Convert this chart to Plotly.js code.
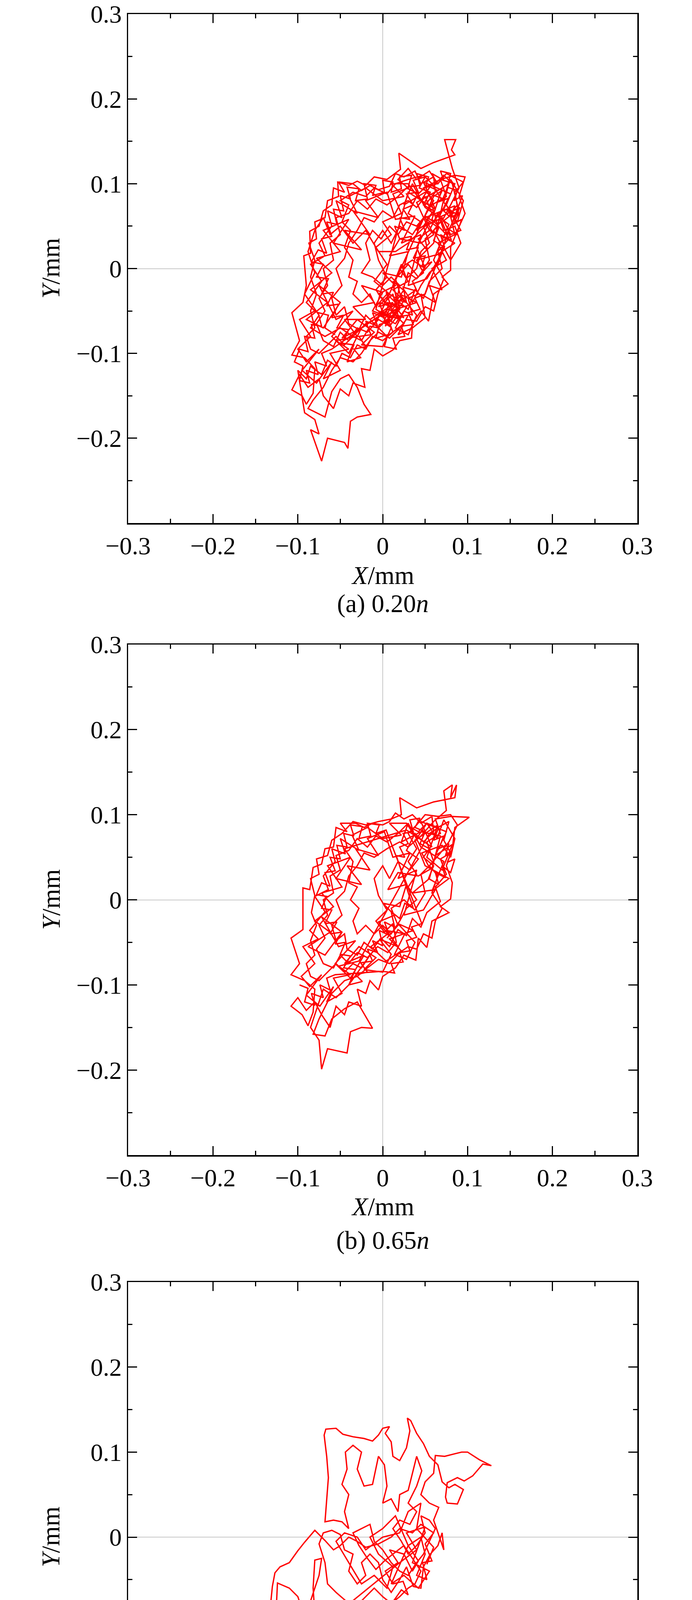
<!DOCTYPE html>
<html>
<head>
<meta charset="utf-8">
<script src="https://cdn.plot.ly/plotly-3.0.1.min.js"></script>
<style>html,body{margin:0;padding:0;background:#fff;}#chart{width:1772px;height:4843px;}</style>
</head>
<body>
<div id="chart"></div>
<script>
// ---- data (mm) ----
const xTickVals = [-0.3, -0.2, -0.1, 0, 0.1, 0.2, 0.3];
const xTickText = ["\u22120.3", "\u22120.2", "\u22120.1", "0", "0.1", "0.2", "0.3"];
const yTickVals = [-0.2, -0.1, 0, 0.1, 0.2, 0.3];
const yTickText = ["\u22120.2", "\u22120.1", "0", "0.1", "0.2", "0.3"];
const captions = ["(a) 0.20<i>n</i>", "(b) 0.65<i>n</i>", "(c) 1.00<i>n</i>"];

// (a) 0.20n
const x1 = [
0.010,0.022,0.015,0.030,0.042,0.055,0.050,0.065,0.058,0.075,
0.068,0.085,0.097,0.090,0.097,0.088,0.080,0.080,0.070,0.077,
0.060,0.054,0.045,0.035,0.034,0.020,0.012,0.000,-0.010,-0.015,
-0.025,-0.021,-0.035,-0.040,-0.050,-0.058,-0.070,-0.075,-0.088,-0.098,
-0.107,-0.095,-0.090,-0.082,-0.080,-0.092,-0.107,-0.098,-0.107,-0.094,
-0.090,-0.093,-0.085,-0.086,-0.075,-0.070,-0.060,-0.058,-0.045,-0.052,
-0.035,-0.025,-0.015,-0.005,0.008,0.015,0.025,0.038,0.045,0.060,
0.062,0.050,0.040,0.030,0.045,0.035,0.020,0.010,0.000,-0.010,
-0.005,0.005,-0.008,0.002,0.012,0.018,0.008,-0.005,-0.018,-0.030,
-0.040,-0.050,-0.058,-0.070,-0.078,-0.068,-0.075,-0.065,-0.070,-0.058,
-0.062,-0.050,-0.055,-0.040,-0.030,-0.018,-0.008,0.005,0.018,0.028,
0.042,0.052,0.065,0.078,0.072,0.083,0.070,0.078,0.065,0.070,
0.055,0.048,0.038,0.030,0.020,0.010,0.000,-0.010,-0.020,-0.028,
-0.040,-0.045,-0.055,-0.060,-0.048,-0.055,-0.045,-0.040,-0.030,-0.022,
-0.010,0.000,0.012,0.020,0.030,0.040,0.050,0.058,0.048,0.055,
0.045,0.040,0.028,0.022,0.012,0.020,0.005,0.012,0.000,-0.012,
-0.020,-0.030,-0.038,-0.048,-0.055,-0.065,-0.072,-0.085,-0.090,-0.100,
-0.092,-0.080,-0.075,-0.085,-0.072,-0.065,-0.045,-0.041,-0.038,-0.030,
-0.014,-0.022,-0.030,-0.040,-0.050,-0.060,-0.068,-0.088,-0.082,-0.070,
-0.060,-0.050,-0.035,-0.025,-0.015,-0.005,0.008,0.020,0.028,0.040,
0.050,0.060,0.065,0.072,0.060,0.068,0.060,0.072,0.080,0.090,
0.082,0.073,0.086,0.081,0.085,0.060,0.045,0.019,0.021,0.005,
-0.010,-0.020,-0.030,-0.040,-0.053,-0.052,-0.065,-0.068,-0.080,-0.078,
-0.087,-0.080,-0.085,-0.078,-0.085,-0.080,-0.090,-0.085,-0.075,-0.065,
-0.055,-0.045,-0.035,-0.025,-0.015,-0.005,0.005,0.015,0.025,0.035,
0.030,0.042,0.035,0.048,0.040,0.052,0.042,0.055,0.065,0.072,
0.085,0.092,0.080,0.072,0.065,0.055,0.045,0.035,0.025,0.015,
0.005,-0.008,-0.015,-0.025,-0.035,-0.030,-0.040,-0.035,-0.045,-0.038,
-0.048,-0.040,-0.050,-0.035,-0.020,-0.010,0.005,0.015,0.030,0.048,
0.060,0.072,0.082,0.088,0.078,0.070,0.060,0.050,0.040,0.028,
0.018,0.008,-0.002,-0.012,-0.020,-0.015,-0.025,-0.012,0.000,0.010,
0.020,0.015,0.025,0.010,0.003,0.012,0.020,0.008,0.002,-0.008,
0.030,0.062,0.048,0.080,0.066,0.091,0.075,0.058,0.070,0.040,
0.055,0.085,0.062,0.078,0.050,0.035,0.025,0.050,0.072,0.060,
0.040,0.070,0.052,0.030,0.045,0.022,0.038,0.015,0.005,-0.020,
-0.005,-0.035,-0.015,-0.045,-0.025,-0.058,-0.040,-0.070,-0.050,-0.078,
-0.060,-0.085,-0.065,-0.090,-0.070,-0.050,-0.075,-0.055,-0.035,-0.060,
-0.040,-0.025,-0.048,-0.030,-0.010,-0.025,0.000,0.010,-0.005,0.020,
0.005,0.028,0.015,0.030,0.040,0.020,0.040,0.010,0.025,0.005,
-0.015,0.008,-0.005,0.015,0.000,0.022,0.030,0.008,0.020,0.045,
0.060,0.050,0.075,0.088,0.095,0.080,0.070,0.058,0.045,0.030,
0.010,0.025,0.000,-0.020,-0.040,-0.030,-0.055,-0.048,-0.065,-0.060,
-0.075,-0.068,-0.085,-0.072,-0.090,-0.080,-0.098,-0.085,-0.100,-0.090,
-0.075,-0.095,-0.078,-0.060,-0.070,-0.050,-0.062,-0.040,-0.055,-0.030,
-0.045,-0.020,-0.035,-0.010,-0.025,0.000,-0.012,0.010,0.030,0.018,
0.035,0.050,0.045,0.062,0.055,0.070,0.058,0.075,0.065,0.085,
0.078,0.090,0.085,0.095,0.075,0.065,0.055,0.040,0.030,0.018,
0.030,0.012,0.022,0.000,0.010,-0.008,0.005,-0.010,0.008,-0.005,
0.012,0.000,0.015,0.025,0.012,0.030,0.020,0.035,0.050,0.040,
0.055,0.040,0.060,0.048,0.068,0.085,0.075,0.092,0.080,0.070,
0.050,0.030,0.015,-0.005,-0.020,-0.035,-0.050,-0.062,-0.070,-0.080,
-0.088,-0.080,-0.092,-0.075,-0.085,-0.068,-0.050,-0.035,-0.020,-0.005,
0.060,0.070,0.064,0.078,0.071,0.085,0.080,0.090,0.083,0.093,
0.087,0.076,0.081,0.068,0.073,0.060,0.066,0.052,0.060,0.048,
0.056,0.043,0.050,0.036,0.042,0.028,0.036,0.024,0.032,0.020,
0.026,0.014,0.020,0.034,0.028,0.042,0.036,0.050,0.046,0.058,
0.040,0.030,0.024,0.012,0.016,0.004,0.010,-0.004,0.002,-0.012,
-0.006,-0.020,-0.014,-0.028,-0.020,-0.034,-0.026,-0.042,-0.034,-0.048,
-0.040,-0.054,-0.046,-0.060,-0.052,-0.066,-0.058,-0.072,-0.064,-0.078,
-0.070,-0.084,-0.076,-0.066,-0.072,-0.060,-0.066,-0.054,-0.058,-0.046,
-0.050,-0.038,-0.042,-0.028,-0.032,-0.018,-0.022,-0.008,-0.012,0.002,
0.000,0.012,0.010,0.022,0.020,0.034,0.030,0.044,0.040,0.054,
0.050,0.064,0.058,0.072,0.068,0.080,0.076,0.088,0.084,0.094,
0.050,0.038,0.044,0.030,0.036,0.022,0.026,0.012,0.016,0.002,
0.006,-0.008,-0.004,0.008,0.004,0.018,0.014,0.028,0.024,0.038,
-0.060,-0.072,-0.066,-0.080,-0.076,-0.090,-0.086,-0.098,-0.094,-0.104,
-0.098,-0.088,-0.092,-0.080,-0.084,-0.072,-0.076,-0.064,-0.068,-0.056
];
const y1 = [
-0.050,-0.035,-0.012,0.005,-0.010,0.010,0.035,0.050,0.075,0.085,
0.105,0.110,0.108,0.085,0.065,0.045,0.025,-0.002,-0.010,-0.018,
-0.030,-0.062,-0.050,-0.065,-0.082,-0.085,-0.096,-0.103,-0.095,-0.120,
-0.118,-0.140,-0.135,-0.150,-0.142,-0.165,-0.150,-0.130,-0.140,-0.125,
-0.143,-0.150,-0.160,-0.147,-0.118,-0.105,-0.102,-0.085,-0.052,-0.040,
-0.020,0.015,0.018,0.044,0.050,0.068,0.075,0.095,0.090,0.102,
0.100,0.092,0.098,0.093,0.097,0.112,0.108,0.115,0.100,0.108,
0.090,0.075,0.085,0.065,0.055,0.040,0.050,0.030,0.045,0.030,
0.010,-0.010,-0.025,-0.040,-0.030,-0.055,-0.068,-0.060,-0.075,-0.070,
-0.085,-0.075,-0.092,-0.085,-0.065,-0.050,-0.035,-0.020,0.000,0.010,
0.030,0.040,0.060,0.065,0.080,0.070,0.082,0.075,0.085,0.095,
0.088,0.098,0.092,0.100,0.078,0.065,0.055,0.035,0.020,0.000,
-0.015,-0.035,-0.025,-0.048,-0.040,-0.062,-0.050,-0.065,-0.055,-0.072,
-0.065,-0.045,-0.055,-0.035,-0.020,0.000,0.012,0.030,0.045,0.060,
0.055,0.068,0.060,0.075,0.080,0.072,0.085,0.065,0.050,0.030,
0.020,0.000,-0.012,0.005,-0.020,-0.045,-0.055,-0.075,-0.085,-0.080,
-0.095,-0.090,-0.105,-0.100,-0.115,-0.108,-0.125,-0.115,-0.130,-0.120,
-0.170,-0.178,-0.195,-0.190,-0.227,-0.200,-0.205,-0.212,-0.180,-0.175,
-0.172,-0.160,-0.140,-0.125,-0.130,-0.145,-0.175,-0.165,-0.155,-0.140,
-0.120,-0.105,-0.110,-0.100,-0.085,-0.075,-0.082,-0.070,-0.060,-0.062,
-0.045,-0.050,-0.030,-0.012,0.010,0.030,0.045,0.060,0.075,0.095,
0.118,0.152,0.152,0.140,0.134,0.125,0.118,0.136,0.117,0.105,
0.108,0.098,0.103,0.098,0.102,0.085,0.080,0.060,0.055,0.035,
0.030,0.010,-0.010,-0.030,-0.050,-0.070,-0.080,-0.095,-0.100,-0.090,
-0.080,-0.090,-0.080,-0.085,-0.068,-0.070,-0.060,-0.065,-0.050,-0.055,
-0.035,-0.030,-0.015,-0.005,0.010,0.022,0.035,0.045,0.065,0.045,
0.050,0.030,0.010,0.025,0.005,-0.005,-0.020,-0.040,-0.025,-0.040,
-0.030,-0.045,-0.030,-0.040,-0.030,-0.015,-0.010,0.010,0.025,0.045,
0.055,0.075,0.080,0.090,0.085,0.095,0.088,0.100,0.105,0.110,
0.098,0.110,0.100,0.075,0.062,0.070,0.055,0.062,0.050,0.055,
0.040,0.050,0.035,0.045,0.030,0.010,-0.005,-0.010,-0.020,-0.010,
-0.020,-0.045,-0.058,-0.052,-0.068,-0.058,-0.048,-0.040,-0.055,-0.048,
0.090,0.070,0.102,0.088,0.060,0.072,0.040,0.058,0.095,0.078,
0.045,0.030,0.015,0.052,0.072,0.100,0.075,0.090,0.082,0.030,
0.010,0.018,-0.012,-0.020,0.040,0.030,0.062,0.058,0.090,0.080,
0.060,0.068,0.040,0.045,0.022,0.030,0.058,0.045,0.020,0.012,
-0.005,-0.025,-0.040,-0.060,-0.070,-0.040,-0.020,-0.060,-0.050,-0.080,
-0.100,-0.070,-0.082,-0.060,-0.075,-0.090,-0.092,-0.070,-0.050,-0.060,
-0.040,-0.045,-0.070,-0.078,-0.055,-0.030,-0.040,-0.050,-0.065,-0.080,
-0.060,-0.045,-0.030,-0.020,-0.005,-0.010,0.020,0.015,0.035,0.030,
0.040,0.060,0.070,0.055,0.080,0.105,0.080,0.100,0.080,0.100,
0.100,0.085,0.080,0.095,0.085,0.065,0.080,0.060,0.068,0.050,
0.030,0.015,0.005,-0.015,-0.040,-0.050,-0.060,-0.080,-0.095,-0.110,
-0.095,-0.120,-0.135,-0.110,-0.130,-0.120,-0.100,-0.095,-0.085,-0.080,
-0.060,-0.060,-0.045,-0.040,-0.020,-0.028,-0.050,-0.058,-0.055,-0.078,
-0.070,-0.058,-0.030,-0.040,-0.020,-0.025,0.000,0.010,0.030,0.040,
0.070,0.062,0.090,0.102,0.112,0.100,0.115,0.105,0.118,0.105,
0.095,0.088,0.065,0.055,0.040,0.025,0.005,-0.015,-0.030,-0.045,
-0.040,-0.065,-0.052,-0.038,-0.025,-0.015,0.000,0.010,0.000,0.025,
0.055,0.045,0.080,0.095,0.105,0.100,0.075,0.045,0.040,0.060,
0.050,0.030,0.020,0.020,0.045,0.030,0.050,0.040,0.060,0.045,
0.020,-0.005,-0.030,-0.055,-0.070,-0.080,-0.070,-0.080,-0.065,-0.058,
0.085,0.092,0.078,0.083,0.068,0.074,0.060,0.066,0.052,0.058,
0.040,0.048,0.033,0.040,0.025,0.033,0.048,0.058,0.068,0.075,
0.090,0.095,0.108,0.104,0.090,0.088,0.075,0.070,0.058,0.060,
0.045,0.050,0.035,0.038,0.022,0.025,0.012,0.015,0.002,0.008,
-0.012,-0.005,-0.025,-0.015,-0.035,-0.028,-0.045,-0.040,-0.058,-0.052,
-0.068,-0.062,-0.078,-0.080,-0.092,-0.095,-0.105,-0.110,-0.090,-0.088,
-0.072,-0.070,-0.055,-0.058,-0.042,-0.044,-0.028,-0.030,-0.012,-0.010,
0.005,0.008,0.022,0.018,0.035,0.038,0.055,0.052,0.070,0.068,
0.086,0.082,0.096,0.094,0.080,0.082,0.100,0.098,0.086,0.090,
0.104,0.102,0.090,0.094,0.108,0.110,0.096,0.098,0.112,0.108,
0.095,0.100,0.112,0.104,0.115,0.112,0.096,0.092,0.080,0.086,
-0.030,-0.035,-0.048,-0.052,-0.066,-0.068,-0.080,-0.082,-0.095,-0.092,
-0.078,-0.082,-0.066,-0.062,-0.048,-0.050,-0.036,-0.040,-0.022,-0.026,
-0.095,-0.100,-0.115,-0.110,-0.125,-0.120,-0.135,-0.132,-0.115,-0.110,
-0.095,-0.098,-0.080,-0.082,-0.066,-0.068,-0.052,-0.055,-0.070,-0.078
];

// (b) 0.65n
const x2 = [
0.005,0.018,0.010,0.025,0.038,0.050,0.045,0.060,0.052,0.068,
0.062,0.080,0.102,0.085,0.082,0.075,0.082,0.080,0.068,0.078,
0.058,0.052,0.042,0.039,0.025,0.015,0.000,-0.005,-0.015,-0.020,
-0.030,-0.025,-0.040,-0.045,-0.055,-0.062,-0.072,-0.080,-0.090,-0.100,
-0.108,-0.095,-0.088,-0.082,-0.080,-0.092,-0.108,-0.098,-0.108,-0.094,
-0.094,-0.094,-0.086,-0.082,-0.072,-0.068,-0.058,-0.055,-0.042,-0.050,
-0.032,-0.022,-0.012,0.000,0.008,0.015,0.025,0.035,0.045,0.058,
0.060,0.048,0.038,0.028,0.042,0.032,0.018,0.008,0.000,-0.010,
-0.005,0.005,-0.008,0.002,0.012,0.016,0.006,-0.006,-0.018,-0.030,
-0.040,-0.050,-0.058,-0.070,-0.078,-0.068,-0.075,-0.065,-0.070,-0.058,
-0.062,-0.050,-0.055,-0.040,-0.030,-0.018,-0.008,0.005,0.018,0.028,
0.042,0.052,0.065,0.078,0.072,0.080,0.068,0.075,0.062,0.068,
0.052,0.045,0.035,0.028,0.018,0.008,-0.002,-0.012,-0.022,-0.030,
-0.042,-0.045,-0.055,-0.060,-0.048,-0.055,-0.045,-0.040,-0.030,-0.022,
-0.010,0.005,0.020,0.030,0.045,0.060,0.075,0.072,0.082,0.080,
0.087,0.085,0.060,0.040,0.020,0.022,0.010,-0.005,-0.020,-0.035,
-0.048,-0.060,-0.065,-0.078,-0.075,-0.085,-0.080,-0.084,-0.078,-0.085,
-0.080,-0.090,-0.085,-0.075,-0.065,-0.055,-0.045,-0.035,-0.025,-0.015,
-0.040,-0.055,-0.070,-0.085,-0.075,-0.072,-0.065,-0.042,-0.038,-0.025,
-0.012,-0.030,-0.045,-0.060,-0.068,-0.082,-0.075,-0.060,-0.045,-0.030,
-0.018,-0.005,0.008,0.020,0.030,0.040,0.048,0.058,0.062,0.070,
0.058,0.065,0.055,0.068,0.078,0.088,0.080,0.065,0.050,0.040,
0.030,0.040,0.030,0.040,0.030,0.040,0.028,0.020,0.010,0.000,
-0.010,-0.020,-0.030,-0.035,-0.028,-0.038,-0.030,-0.040,-0.035,-0.045,
0.028,0.058,0.045,0.075,0.062,0.082,0.070,0.052,0.065,0.038,
0.050,0.078,0.058,0.072,0.045,0.030,0.022,0.045,0.068,0.055,
0.035,0.062,0.048,0.025,0.040,0.018,0.032,0.012,0.002,-0.018,
-0.005,-0.032,-0.015,-0.042,-0.025,-0.055,-0.038,-0.065,-0.048,-0.072,
-0.058,-0.080,-0.062,-0.088,-0.068,-0.048,-0.072,-0.052,-0.032,-0.056,
-0.038,-0.022,-0.045,-0.028,-0.008,-0.022,0.000,0.010,-0.004,0.018,
0.004,0.026,0.014,0.028,0.038,0.018,0.036,0.008,0.022,0.004,
-0.014,0.006,-0.005,0.014,0.000,0.020,0.028,0.006,0.018,0.042,
0.056,0.046,0.070,0.080,0.085,0.072,0.064,0.052,0.040,0.028,
0.008,0.022,0.000,-0.018,-0.036,-0.028,-0.050,-0.044,-0.060,-0.056,
-0.070,-0.064,-0.080,-0.068,-0.086,-0.076,-0.094,-0.080,-0.096,-0.086,
-0.072,-0.090,-0.074,-0.058,-0.066,-0.048,-0.058,-0.038,-0.052,-0.028,
0.055,0.066,0.060,0.072,0.066,0.078,0.074,0.082,0.076,0.085,
0.080,0.070,0.074,0.062,0.066,0.054,0.060,0.048,0.055,0.044,
0.050,0.038,0.044,0.032,0.036,0.024,0.030,0.020,0.026,0.016,
0.036,0.026,0.020,0.010,0.014,0.002,0.008,-0.004,0.000,-0.012,
-0.006,-0.018,-0.012,-0.026,-0.018,-0.032,-0.024,-0.040,-0.032,-0.046,
-0.038,-0.050,-0.044,-0.056,-0.048,-0.062,-0.054,-0.068,-0.060,-0.072,
-0.066,-0.078,-0.072,-0.062,-0.068,-0.056,-0.062,-0.050,-0.054,-0.042,
-0.046,-0.034,-0.038,-0.024,-0.028,-0.014,-0.018,-0.004,-0.008,0.004,
0.046,0.034,0.040,0.028,0.032,0.020,0.024,0.010,0.014,0.000,
-0.056,-0.066,-0.062,-0.074,-0.070,-0.084,-0.080,-0.092,-0.088,-0.098
];
const y2 = [
-0.045,-0.030,-0.010,0.000,-0.012,0.008,0.030,0.045,0.068,0.078,
0.095,0.098,0.097,0.085,0.060,0.040,0.020,0.001,-0.008,-0.015,
-0.025,-0.056,-0.045,-0.071,-0.065,-0.080,-0.090,-0.106,-0.095,-0.110,
-0.105,-0.125,-0.120,-0.135,-0.125,-0.150,-0.135,-0.120,-0.130,-0.115,
-0.125,-0.135,-0.148,-0.132,-0.105,-0.095,-0.088,-0.075,-0.045,-0.035,
-0.024,0.014,0.012,0.038,0.042,0.060,0.062,0.085,0.080,0.090,
0.090,0.085,0.090,0.088,0.092,0.102,0.095,0.100,0.090,0.098,
0.080,0.068,0.078,0.058,0.048,0.035,0.045,0.025,0.040,0.025,
0.005,-0.012,-0.025,-0.038,-0.028,-0.050,-0.062,-0.055,-0.068,-0.062,
-0.075,-0.065,-0.080,-0.075,-0.058,-0.045,-0.030,-0.018,0.000,0.008,
0.028,0.035,0.052,0.058,0.072,0.062,0.075,0.068,0.078,0.088,
0.080,0.090,0.085,0.092,0.070,0.055,0.048,0.030,0.015,-0.002,
-0.015,-0.032,-0.022,-0.042,-0.035,-0.055,-0.045,-0.058,-0.050,-0.065,
-0.058,-0.040,-0.048,-0.030,-0.018,0.000,0.010,0.028,0.040,0.055,
0.050,0.060,0.068,0.062,0.075,0.092,0.105,0.128,0.135,0.120,
0.135,0.120,0.115,0.108,0.120,0.100,0.095,0.092,0.088,0.092,
0.078,0.070,0.052,0.048,0.030,0.025,0.005,-0.015,-0.030,-0.048,
-0.065,-0.075,-0.090,-0.095,-0.085,-0.075,-0.085,-0.075,-0.080,-0.065,
-0.100,-0.115,-0.105,-0.150,-0.165,-0.199,-0.175,-0.180,-0.155,-0.150,
-0.151,-0.120,-0.128,-0.140,-0.160,-0.158,-0.140,-0.110,-0.095,-0.090,
-0.080,-0.070,-0.075,-0.062,-0.055,-0.058,-0.040,-0.045,-0.025,-0.010,
0.008,0.028,0.040,0.055,0.068,0.088,0.100,0.098,0.100,0.088,
0.078,0.060,0.045,0.030,0.015,0.000,-0.010,-0.025,-0.040,-0.030,
-0.040,-0.030,-0.040,-0.025,-0.010,0.000,0.015,0.020,0.045,0.060,
0.082,0.062,0.092,0.080,0.052,0.065,0.035,0.050,0.088,0.070,
0.040,0.025,0.010,0.045,0.062,0.090,0.068,0.080,0.075,0.025,
0.008,0.012,-0.012,-0.018,0.035,0.025,0.055,0.050,0.080,0.072,
0.052,0.060,0.035,0.040,0.018,0.025,0.050,0.040,0.015,0.008,
-0.008,-0.025,-0.038,-0.055,-0.065,-0.038,-0.020,-0.055,-0.048,-0.075,
-0.092,-0.065,-0.075,-0.055,-0.068,-0.082,-0.085,-0.064,-0.046,-0.055,
-0.036,-0.040,-0.064,-0.070,-0.050,-0.028,-0.036,-0.046,-0.060,-0.072,
-0.055,-0.040,-0.026,-0.018,-0.004,-0.008,0.018,0.012,0.032,0.028,
0.036,0.055,0.064,0.050,0.072,0.094,0.072,0.090,0.072,0.090,
0.090,0.076,0.072,0.085,0.076,0.058,0.072,0.054,0.060,0.045,
0.028,0.012,0.004,-0.014,-0.036,-0.046,-0.055,-0.075,-0.090,-0.102,
-0.088,-0.112,-0.125,-0.102,-0.120,-0.110,-0.092,-0.088,-0.078,-0.072,
0.078,0.085,0.070,0.075,0.060,0.066,0.052,0.058,0.044,0.048,
0.032,0.040,0.026,0.032,0.018,0.025,0.040,0.050,0.060,0.066,
0.080,0.085,0.096,0.094,0.080,0.078,0.066,0.062,0.050,0.052,
-0.010,-0.004,-0.022,-0.014,-0.032,-0.026,-0.042,-0.036,-0.054,-0.048,
-0.062,-0.058,-0.072,-0.074,-0.085,-0.088,-0.096,-0.100,-0.082,-0.080,
-0.066,-0.064,-0.050,-0.052,-0.038,-0.040,-0.026,-0.028,-0.012,-0.010,
0.004,0.006,0.020,0.016,0.032,0.034,0.050,0.048,0.064,0.062,
0.078,0.075,0.088,0.086,0.072,0.075,0.090,0.088,0.078,0.082,
-0.028,-0.032,-0.044,-0.048,-0.060,-0.062,-0.073,-0.075,-0.086,-0.084,
-0.088,-0.092,-0.106,-0.100,-0.115,-0.110,-0.124,-0.120,-0.104,-0.100
];

// (c) 1.00n
const x3 = [
0.000,-0.013,-0.016,-0.013,-0.030,-0.050,-0.070,-0.088,-0.098,-0.092,
-0.105,-0.111,-0.118,-0.097,-0.091,-0.086,-0.080,-0.074,-0.072,-0.064,
-0.055,-0.049,-0.040,-0.034,-0.032,-0.027,-0.031,-0.022,-0.016,-0.018,
-0.010,-0.004,-0.012,-0.015,-0.006,0.005,0.015,0.022,0.030,0.024,
0.012,0.003,0.018,0.008,0.025,0.035,0.042,0.030,0.045,0.050,
0.040,0.052,0.047,0.058,0.050,0.060,0.045,0.035,0.020,0.010,
-0.005,-0.020,-0.030,-0.040,-0.050,-0.058,-0.068,-0.080,-0.092,-0.100,
-0.110,-0.121,-0.127,-0.130,-0.132,-0.147,-0.135,-0.125,-0.122,-0.117,
-0.110,-0.104,-0.103,-0.094,-0.088,-0.080,-0.070,-0.062,-0.050,-0.040,
-0.055,-0.065,-0.068,-0.075,-0.070,-0.060,-0.050,-0.045,-0.035,-0.040,
-0.030,-0.020,-0.025,-0.015,-0.005,0.000,0.010,0.020,0.028,0.036,
0.045,0.048,0.056,0.065,0.070,0.072,0.060,0.066,0.055,0.045,
0.050,0.060,0.062,0.073,0.085,0.093,0.100,0.114,0.128,0.118,
0.106,0.096,0.088,0.076,0.074,0.076,0.088,0.095,0.085,0.078,
0.070,0.065,0.055,0.048,0.040,0.033,0.029,0.032,0.028,0.020,
0.012,0.010,0.003,0.008,0.000,-0.005,-0.012,-0.022,-0.035,-0.047,
-0.055,-0.067,-0.069,-0.066,-0.064,-0.066,-0.068,-0.058,-0.048,-0.040,
-0.045,-0.040,-0.048,-0.042,-0.044,-0.035,-0.025,-0.030,-0.022,-0.012,
-0.008,-0.005,0.002,0.005,0.000,0.010,0.018,0.020,0.030,0.035,
0.040,0.046,0.040,0.030,0.040,0.032,0.020,0.012,0.022,0.030,
0.040,0.050,0.045,0.055,0.062,0.055,0.048,0.040,0.030,0.020,
0.010,0.000,-0.010,-0.015,-0.025,-0.035,-0.028,-0.018,-0.008,0.002,
0.012,0.025,0.035,0.045,0.038,0.030,0.020,0.010,0.000,-0.010,
-0.020,-0.030,-0.040,-0.045,-0.055,-0.065,-0.078,-0.085,-0.075,-0.060,
-0.048,-0.035,-0.020,-0.012,-0.008,-0.020,-0.028,-0.015,-0.002,0.008,
-0.080,-0.082,-0.080,-0.072,-0.075,-0.085,-0.095,-0.100,-0.110,-0.124,
-0.125,-0.125,-0.118,-0.105,-0.098,-0.092,-0.090,-0.080,-0.070,-0.060,
0.020,0.040,0.028,0.050,0.035,0.055,0.042,0.025,0.010,0.030,
0.015,0.000,-0.015,-0.005,0.012,0.005,-0.010,-0.025,-0.040,-0.055,
-0.045,-0.030,-0.020,0.000,0.020,0.030,0.045,0.040,0.060,0.052
];
const y3 = [
-0.143,-0.122,-0.108,-0.093,-0.092,-0.086,-0.090,-0.100,-0.108,-0.133,
-0.142,-0.148,-0.167,-0.171,-0.180,-0.172,-0.180,-0.191,-0.183,-0.180,
-0.171,-0.185,-0.178,-0.175,-0.150,-0.160,-0.133,-0.137,-0.145,-0.120,
-0.132,-0.140,-0.112,-0.097,-0.088,-0.085,-0.072,-0.062,-0.068,-0.052,
-0.055,-0.040,-0.030,-0.015,-0.020,-0.040,-0.028,-0.010,0.000,-0.020,
-0.045,-0.050,-0.030,-0.028,-0.008,0.005,0.015,0.005,0.010,0.000,
-0.008,-0.012,-0.005,0.000,-0.010,-0.015,-0.004,0.008,-0.006,-0.016,
-0.030,-0.035,-0.042,-0.058,-0.078,-0.084,-0.095,-0.105,-0.092,-0.100,
-0.106,-0.098,-0.113,-0.110,-0.098,-0.093,-0.098,-0.088,-0.090,-0.078,
-0.065,-0.055,-0.030,-0.008,0.005,0.008,0.003,-0.015,-0.020,-0.040,
-0.055,-0.045,-0.030,-0.020,-0.030,-0.050,-0.065,-0.050,-0.035,-0.058,
-0.060,-0.035,-0.020,-0.010,0.005,-0.015,0.020,0.035,0.040,0.050,
0.065,0.075,0.096,0.095,0.098,0.100,0.100,0.091,0.084,0.086,
0.072,0.066,0.070,0.064,0.047,0.040,0.039,0.056,0.062,0.058,
0.065,0.085,0.095,0.110,0.122,0.137,0.140,0.125,0.105,0.090,
0.095,0.112,0.122,0.130,0.128,0.120,0.113,0.116,0.118,0.121,
0.128,0.127,0.120,0.095,0.070,0.045,0.018,0.020,0.018,0.010,
0.030,0.050,0.062,0.080,0.100,0.108,0.100,0.080,0.060,0.062,
0.080,0.095,0.085,0.060,0.040,0.045,0.030,0.050,0.055,0.075,
0.095,0.078,0.060,0.040,0.030,0.015,0.020,0.010,-0.005,-0.020,
-0.010,0.005,0.025,0.020,0.010,-0.005,-0.020,-0.030,-0.045,-0.040,
-0.030,-0.015,-0.005,0.015,0.010,0.005,-0.010,-0.025,-0.038,-0.028,
-0.020,-0.010,-0.025,-0.040,-0.055,-0.060,-0.070,-0.078,-0.070,-0.060,
-0.070,-0.080,-0.095,-0.110,-0.100,-0.110,-0.105,-0.118,-0.125,-0.120,
-0.128,-0.125,-0.128,-0.118,-0.105,-0.100,-0.090,-0.085,-0.090,-0.082,
-0.090,-0.060,-0.027,-0.025,-0.045,-0.075,-0.085,-0.070,-0.060,-0.054,
-0.075,-0.095,-0.104,-0.100,-0.118,-0.110,-0.125,-0.115,-0.105,-0.095,
-0.030,-0.015,0.005,0.012,-0.030,-0.040,-0.060,-0.045,-0.055,-0.010,
0.025,0.010,0.000,-0.020,-0.035,-0.060,-0.045,-0.055,-0.030,-0.005,
0.005,0.000,-0.015,0.000,0.005,0.030,0.040,0.010,-0.012,-0.032
];

// ---- layout ----
const FONT = "Liberation Serif, Times New Roman, serif";
const W = 1772, H = 4843;
const xDom = [328 / W, 1632 / W];
const panels = [
  {top: 36, bottom: 1339, xt: 1473, cap: 1545},
  {top: 1650, bottom: 2957, xt: 3089, cap: 3175},
  {top: 3282, bottom: 4588, xt: 4719, cap: 4800}
];

function axisBase(extra) {
  return Object.assign({
    range: [-0.3, 0.3],
    autorange: false,
    fixedrange: true,
    ticks: 'inside', ticklen: 23, tickwidth: 3, tickcolor: '#000',
    showline: true, linecolor: '#000', linewidth: 3.5, mirror: 'allticks',
    showgrid: false,
    zeroline: true, zerolinecolor: '#c8c8c8', zerolinewidth: 2,
    minor: {ticks: 'inside', ticklen: 11, tickwidth: 3, tickcolor: '#000', dtick: 0.05, tick0: 0, showgrid: false},
    tickfont: {family: FONT, size: 64, color: '#000'},
    ticklabeloverflow: 'allow',
    tickmode: 'array'
  }, extra);
}

const xs = [x1, x2, x3], ys = [y1, y2, y3];
const data = [];
const layout = {
  width: W, height: H,
  margin: {l: 0, r: 0, t: 0, b: 0},
  paper_bgcolor: '#fff', plot_bgcolor: '#fff',
  showlegend: false,
  annotations: []
};
panels.forEach((p, i) => {
  const n = i === 0 ? '' : String(i + 1);
  const yDom = [1 - p.bottom / H, 1 - p.top / H];
  layout['xaxis' + n] = axisBase({domain: xDom, anchor: 'y' + n, tickvals: xTickVals, ticktext: xTickText});
  layout['yaxis' + n] = axisBase({domain: yDom, anchor: 'x' + n, tickvals: yTickVals, ticktext: yTickText});
  data.push({
    type: 'scatter', mode: 'lines', x: xs[i], y: ys[i],
    xaxis: 'x' + n, yaxis: 'y' + n,
    line: {color: '#ff0000', width: 3.4}, hoverinfo: 'skip'
  });
  layout.annotations.push({
    xref: 'paper', yref: 'paper', x: 980 / W, y: 1 - p.xt / H,
    xanchor: 'center', yanchor: 'middle', showarrow: false,
    text: '<i>X</i>/mm', font: {family: FONT, size: 65, color: '#000'}
  });
  layout.annotations.push({
    xref: 'paper', yref: 'paper', x: 980 / W, y: 1 - p.cap / H,
    xanchor: 'center', yanchor: 'middle', showarrow: false,
    text: captions[i], font: {family: FONT, size: 65, color: '#000'}
  });
  layout.annotations.push({
    xref: 'paper', yref: 'paper', x: 130 / W, y: 1 - ((p.top + p.bottom) / 2) / H,
    xanchor: 'center', yanchor: 'middle', showarrow: false, textangle: -90,
    text: '<i>Y</i>/mm', font: {family: FONT, size: 65, color: '#000'}
  });
});

Plotly.newPlot('chart', data, layout, {staticPlot: true, displayModeBar: false});
</script>
</body>
</html>
